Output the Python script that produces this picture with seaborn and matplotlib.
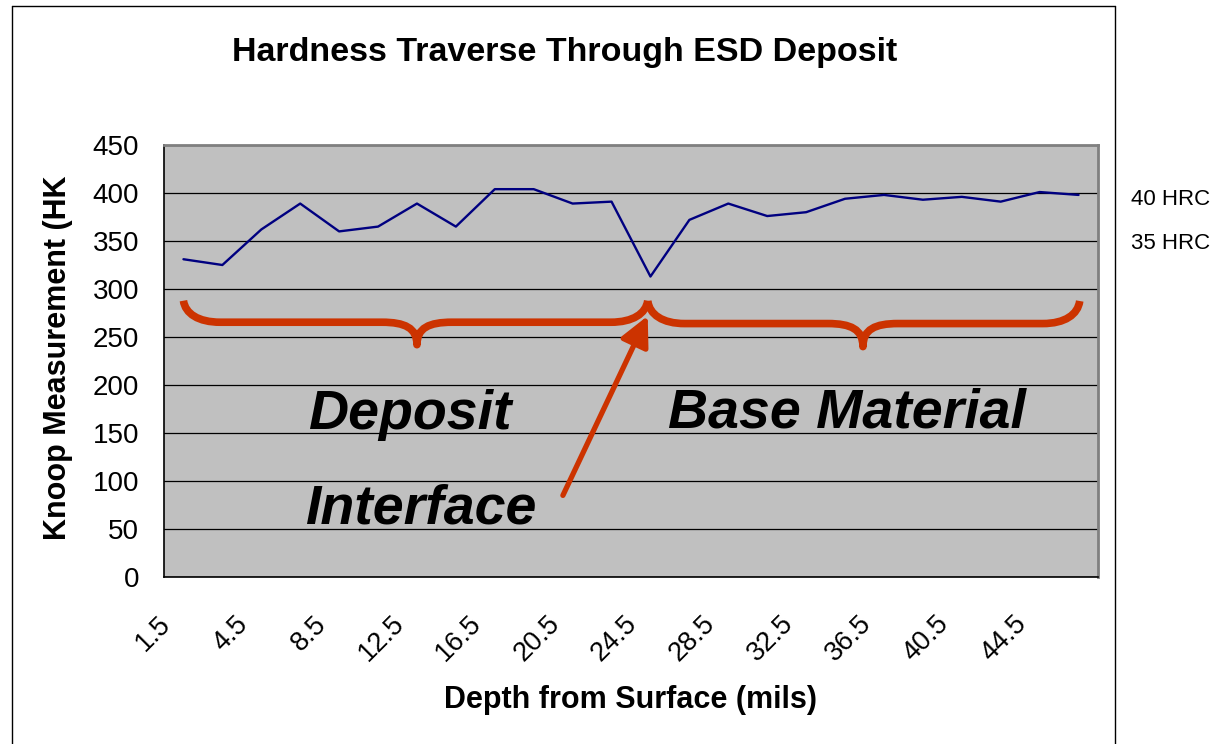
import numpy as np
import pandas as pd
import matplotlib
matplotlib.use('Agg')
import matplotlib.pyplot as plt
import seaborn as sns
from matplotlib.path import Path
from matplotlib.patches import PathPatch
from matplotlib.lines import Line2D
from matplotlib.transforms import ScaledTranslation

# depth categories (mils) and Knoop readings
depth_mils = ['1.5', '2.5', '4.5', '6.5', '8.5', '10.5', '12.5', '14.5',
              '16.5', '18.5', '20.5', '22.5', '24.5', '26.5', '28.5', '30.5',
              '32.5', '34.5', '36.5', '38.5', '40.5', '42.5', '44.5', '46.5']
knoop_hk = [331, 325, 362, 389, 360, 365, 389, 365, 404, 404, 389, 391,
            313, 372, 389, 376, 380, 394, 398, 393, 396, 391, 401, 398]
y_ticks = [0, 50, 100, 150, 200, 250, 300, 350, 400, 450]
hrc_labels = ['40 HRC', '35 HRC']
region_labels = ['Deposit', 'Base Material', 'Interface']

BRACE_RED = '#CC3300'
PLOT_GRAY = '#C0C0C0'
LINE_BLUE = '#000080'

W, H = 1223, 744


def draw_brace(ax, x0, x1, xm, y_top, y_flat, y_tip, r_end=0.95, r_mid=0.9):
    dy_end = y_top - y_flat
    dy_mid = y_flat - y_tip
    verts = [
        (x0, y_top),
        (x0 + 0.05 * r_end, y_top - 0.6 * dy_end), (x0 + 0.4 * r_end, y_flat), (x0 + r_end, y_flat),
        (xm - r_mid, y_flat),
        (xm - 0.35 * r_mid, y_flat), (xm, y_flat - 0.25 * dy_mid), (xm, y_tip),
        (xm, y_flat - 0.25 * dy_mid), (xm + 0.35 * r_mid, y_flat), (xm + r_mid, y_flat),
        (x1 - r_end, y_flat),
        (x1 - 0.4 * r_end, y_flat), (x1 - 0.05 * r_end, y_top - 0.6 * dy_end), (x1, y_top),
    ]
    codes = [Path.MOVETO,
             Path.CURVE4, Path.CURVE4, Path.CURVE4,
             Path.LINETO,
             Path.CURVE4, Path.CURVE4, Path.CURVE4,
             Path.CURVE4, Path.CURVE4, Path.CURVE4,
             Path.LINETO,
             Path.CURVE4, Path.CURVE4, Path.CURVE4]
    patch = PathPatch(Path(verts, codes), fill=False, edgecolor=BRACE_RED,
                      lw=5.5, capstyle='butt', joinstyle='round', zorder=4)
    ax.add_patch(patch)


sns.set_style('white')
plt.rcParams['font.family'] = ['Liberation Sans', 'DejaVu Sans']
plt.rcParams['text.color'] = 'black'
plt.rcParams['xtick.color'] = 'black'
plt.rcParams['ytick.color'] = 'black'
plt.rcParams['axes.labelcolor'] = 'black'

df = pd.DataFrame({'pos': np.arange(len(depth_mils)), 'hk': knoop_hk})

fig = plt.figure(figsize=(W / 100, H / 100), dpi=100)
ax = fig.add_axes([164 / W, 1 - 577 / H, (1098 - 164) / W, (577 - 145) / H])
ax.set_facecolor(PLOT_GRAY)

sns.lineplot(data=df, x='pos', y='hk', color=LINE_BLUE, lw=1.7, ax=ax, zorder=3)

ax.set_xlim(-0.5, len(depth_mils) - 0.5)
ax.set_ylim(0, 450)
ax.set_yticks(y_ticks)
ax.set_yticklabels([str(v) for v in y_ticks], fontsize=20)
ax.yaxis.grid(True, color='black', lw=0.9)
ax.set_axisbelow(True)

# ticks between categories, labels on every other category
ax.set_xticks(np.arange(-0.5, len(depth_mils)), minor=True)
ax.set_xticks(np.arange(0, len(depth_mils), 2))
ax.set_xticklabels(depth_mils[::2], fontsize=19.5, rotation=45, ha='right',
                   va='center', rotation_mode='anchor')
ax.tick_params(axis='x', which='major', length=0, pad=31)
ax.tick_params(axis='x', which='minor', length=9, width=1, color='black', direction='out')
ax.tick_params(axis='y', length=9, width=1, color='black', direction='out', pad=9)
for lbl in ax.get_xticklabels():
    lbl.set_transform(lbl.get_transform() + ScaledTranslation(-17 / 100, 0, fig.dpi_scale_trans))

ax.set_xlabel('')
ax.set_ylabel('')
for side in ['left', 'bottom']:
    ax.spines[side].set_color('black')
    ax.spines[side].set_linewidth(1.2)
for side in ['top', 'right']:
    ax.spines[side].set_color('#808080')
    ax.spines[side].set_linewidth(2)

# braces marking deposit / base material
draw_brace(ax, 0.0, 11.93, 6.0, 287.8, 265.4, 242)
draw_brace(ax, 11.93, 23.03, 17.46, 287.5, 264, 240)

ax.annotate('', xy=(11.93, 272), xytext=(9.75, 85),
            arrowprops=dict(arrowstyle='-|>,head_length=1.0,head_width=0.5',
                            color=BRACE_RED, lw=3.8, mutation_scale=18,
                            shrinkA=0, shrinkB=0), zorder=4)

region_font = dict(fontsize=40, fontweight='bold', fontstyle='italic',
                   color='black', va='baseline', ha='left', zorder=5)
ax.text(3.2, 154.5, region_labels[0], **region_font)
ax.text(12.45, 156, region_labels[1], **region_font)
ax.text(3.12, 55.5, region_labels[2], **region_font)

# titles
fig.text(565 / W, 1 - 52 / H, 'Hardness Traverse Through ESD Deposit',
         fontsize=24.5, fontweight='bold', ha='center', va='center')
fig.text(631 / W, 1 - 700 / H, 'Depth from Surface (mils)',
         fontsize=22, fontweight='bold', ha='center', va='center')
fig.text(58 / W, 1 - 358 / H, 'Knoop Measurement (HK',
         fontsize=22, fontweight='bold', ha='center', va='center', rotation=90)

fig.text(1131 / W, 1 - 199.5 / H, hrc_labels[0], fontsize=16, ha='left', va='center')
fig.text(1131 / W, 1 - 243 / H, hrc_labels[1], fontsize=16, ha='left', va='center')

# chart border (open at the bottom)
border = dict(color='black', lw=1, transform=fig.transFigure)
fig.add_artist(Line2D([12 / W, 12 / W], [0, 1 - 6 / H], **border))
fig.add_artist(Line2D([12 / W, 1115 / W], [1 - 6 / H, 1 - 6 / H], **border))
fig.add_artist(Line2D([1115 / W, 1115 / W], [0, 1 - 6 / H], **border))

fig.savefig('out.png', dpi=100, facecolor='white')
